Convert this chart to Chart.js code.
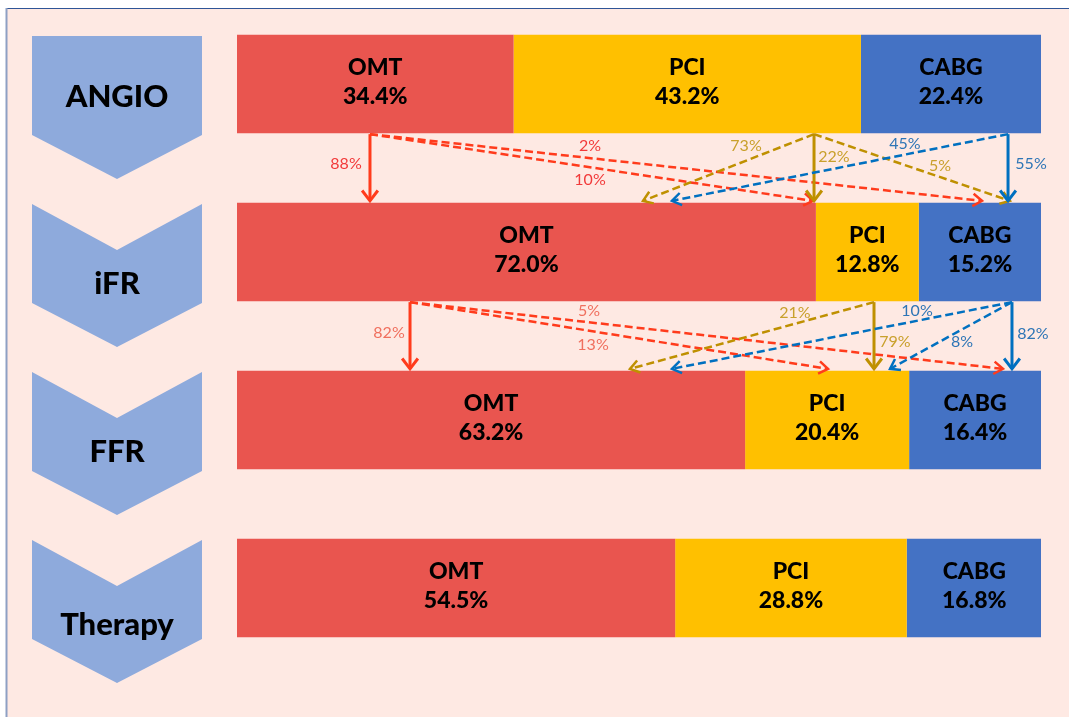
<!DOCTYPE html>
<html>
<head>
<meta charset="utf-8">
<script src="https://cdn.jsdelivr.net/npm/chart.js@4"></script>
<style>
  html, body { margin: 0; padding: 0; background: #ffffff; overflow: hidden; }
  #wrap { width: 1069px; height: 717px; }
</style>
</head>
<body>
<div id="wrap"><canvas id="c" width="1069" height="717"></canvas></div>
<script>
// Decision stages and treatment categories
const ROW_NAMES = ['ANGIO', 'iFR', 'FFR', 'Therapy'];
const TREATMENTS = ['OMT', 'PCI', 'CABG'];

// Share of patients per treatment at each stage (%)
const omtPct  = [34.4, 72.0, 63.2, 54.5];
const pciPct  = [43.2, 12.8, 20.4, 28.8];
const cabgPct = [22.4, 15.2, 16.4, 16.8];

// Reclassification between stages (%): rows = from OMT/PCI/CABG, columns = to OMT/PCI/CABG
const angioToIfr = [[88, 10, 2], [73, 22, 5], [45, null, 55]];
const ifrToFfr   = [[82, 13, 5], [21, 79, null], [10, 8, 82]];

// Where each arrow leaves and lands (x-axis units), and where its label sits
// (x-axis units, fraction of the gap between the two bars)
const flowLayouts = [
  {
    flows: angioToIfr,
    src: [16.54, 71.77, 95.90],
    dst: [[16.54, 71.64, 92.66], [50.50, 71.77, 96.14], [54.10, null, 95.90]],
    lab: [[[13.56, 0.44], [43.91, 0.68], [43.91, 0.18]],
          [[63.31, 0.18], [74.25, 0.34], [87.44, 0.48]],
          [[83.08, 0.14], null, [98.76, 0.44]]],
    labColors: ['#f23a3a', '#c9a02c', '#2e75b6']
  },
  {
    flows: ifrToFfr,
    src: [21.52, 79.23, 96.39],
    dst: [[21.52, 73.51, 95.27], [48.88, 79.23, null], [54.10, 81.22, 96.39]],
    lab: [[[18.91, 0.46], [44.28, 0.64], [43.78, 0.13]],
          [[69.40, 0.16], [81.84, 0.59], null],
          [[84.58, 0.13], [90.17, 0.60], [99.00, 0.47]]],
    labColors: ['#f0705f', '#c9a02c', '#2e75b6']
  }
];

const BAR_COLORS = ['#e9554f', '#ffc000', '#4472c4'];
const ARROW_COLORS = ['#ff3b1c', '#bf9000', '#0070c0'];
const CHEVRON_COLOR = '#8eaadc';
const FONT = 'Lato, "Open Sans", sans-serif';

function arrowHead(ctx, x, y, ang, len, spread) {
  ctx.setLineDash([]);
  ctx.beginPath();
  ctx.moveTo(x - len * Math.cos(ang - spread), y - len * Math.sin(ang - spread));
  ctx.lineTo(x, y);
  ctx.lineTo(x - len * Math.cos(ang + spread), y - len * Math.sin(ang + spread));
  ctx.stroke();
}

function drawArrow(ctx, x1, y1, x2, y2, color, dashed) {
  ctx.save();
  ctx.strokeStyle = color;
  ctx.lineCap = 'butt';
  ctx.lineJoin = 'miter';
  ctx.lineWidth = dashed ? 2.5 : 3;
  ctx.setLineDash(dashed ? [8, 4] : []);
  ctx.beginPath();
  ctx.moveTo(x1, y1);
  ctx.lineTo(x2, y2);
  ctx.stroke();
  const ang = Math.atan2(y2 - y1, x2 - x1);
  arrowHead(ctx, x2, y2, ang, dashed ? 11 : 13, dashed ? 0.6 : 0.65);
  ctx.restore();
}

// Page background and frame lines
const backdrop = {
  id: 'backdrop',
  beforeDraw(chart) {
    const ctx = chart.ctx;
    ctx.save();
    ctx.fillStyle = '#ffffff';
    ctx.fillRect(0, 0, chart.width, chart.height);
    ctx.fillStyle = '#fee9e3';
    ctx.fillRect(6, 8, chart.width - 6, chart.height - 8);
    ctx.strokeStyle = '#2f5597';
    ctx.lineWidth = 1.2;
    ctx.beginPath();
    ctx.moveTo(6, 8.5);
    ctx.lineTo(chart.width, 8.5);
    ctx.stroke();
    ctx.strokeStyle = '#8ea0c4';
    ctx.lineWidth = 2;
    ctx.beginPath();
    ctx.moveTo(6.5, 8);
    ctx.lineTo(6.5, chart.height);
    ctx.stroke();
    ctx.restore();
  }
};

// Stage chevrons on the left
const chevrons = {
  id: 'chevrons',
  beforeDatasetsDraw(chart) {
    const ctx = chart.ctx;
    const yScale = chart.scales.y;
    const left = 32, right = 202, mid = 117;
    ctx.save();
    ROW_NAMES.forEach((name, i) => {
      const c = yScale.getPixelForValue(i);
      ctx.fillStyle = CHEVRON_COLOR;
      ctx.beginPath();
      ctx.moveTo(left, c - 48);
      if (i > 0) ctx.lineTo(mid, c - 2);
      ctx.lineTo(right, c - 48);
      ctx.lineTo(right, c + 51);
      ctx.lineTo(mid, c + 95);
      ctx.lineTo(left, c + 51);
      ctx.closePath();
      ctx.fill();
      ctx.fillStyle = '#000000';
      ctx.font = '900 31px ' + FONT;
      ctx.textAlign = 'center';
      ctx.textBaseline = 'middle';
      const dy = i === 0 ? 13 : (i === 3 ? 37 : 32);
      ctx.fillText(name, mid, c + dy);
    });
    ctx.restore();
  }
};

// Treatment name and share inside each bar segment, plus the transition arrows
const annotations = {
  id: 'annotations',
  afterDatasetsDraw(chart) {
    const ctx = chart.ctx;
    const xScale = chart.scales.x;
    const yScale = chart.scales.y;
    ctx.save();
    ctx.fillStyle = '#000000';
    ctx.textAlign = 'center';
    ctx.textBaseline = 'alphabetic';
    ctx.font = '900 23px ' + FONT;
    chart.data.datasets.forEach((ds, di) => {
      const meta = chart.getDatasetMeta(di);
      meta.data.forEach((el, ri) => {
        const cx = (el.x + el.base) / 2;
        const cy = el.y;
        ctx.fillText(TREATMENTS[di], cx, cy - 9);
        ctx.fillText(ds.data[ri].toFixed(1) + '%', cx, cy + 20);
      });
    });

    const half = chart.getDatasetMeta(0).data[0].height / 2;
    flowLayouts.forEach((fl, r) => {
      const yTop = yScale.getPixelForValue(r) + half + 1;
      const yBot = yScale.getPixelForValue(r + 1) - half - 2;
      fl.flows.forEach((row, s) => {
        row.forEach((pct, t) => {
          if (pct === null) return;
          const x1 = xScale.getPixelForValue(fl.src[s]);
          const x2 = xScale.getPixelForValue(fl.dst[s][t]);
          drawArrow(ctx, x1, yTop, x2, yBot, ARROW_COLORS[s], s !== t);
        });
      });
      ctx.font = '16px ' + FONT;
      ctx.textBaseline = 'middle';
      fl.flows.forEach((row, s) => {
        row.forEach((pct, t) => {
          if (pct === null) return;
          const [lx, lf] = fl.lab[s][t];
          ctx.fillStyle = fl.labColors[s];
          ctx.fillText(pct + '%', xScale.getPixelForValue(lx), yTop + (yBot - yTop) * lf);
        });
      });
    });
    ctx.restore();
  }
};

new Chart(document.getElementById('c'), {
  type: 'bar',
  data: {
    labels: ROW_NAMES,
    datasets: [
      { label: TREATMENTS[0], data: omtPct, backgroundColor: BAR_COLORS[0] },
      { label: TREATMENTS[1], data: pciPct, backgroundColor: BAR_COLORS[1] },
      { label: TREATMENTS[2], data: cabgPct, backgroundColor: BAR_COLORS[2] }
    ]
  },
  options: {
    responsive: false,
    animation: false,
    indexAxis: 'y',
    layout: { padding: { left: 237, right: 28, top: 0, bottom: 45 } },
    datasets: { bar: { barPercentage: 0.585, categoryPercentage: 1, borderWidth: 0 } },
    scales: {
      x: { stacked: true, min: 0, max: 100, display: false },
      y: { stacked: true, display: false }
    },
    plugins: { legend: { display: false }, tooltip: { enabled: false } }
  },
  plugins: [backdrop, chevrons, annotations]
});
</script>
</body>
</html>
